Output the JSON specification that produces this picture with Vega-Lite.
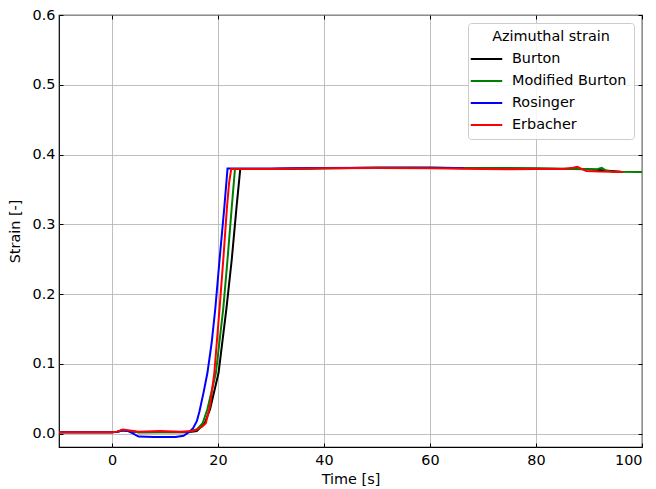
{
  "$schema": "https://vega.github.io/schema/vega-lite/v6.json",
  "width": 583,
  "height": 432,
  "autosize": {"type": "none"},
  "padding": {"left": 59, "top": 15, "right": 14, "bottom": 42},
  "config": {
    "font": "DejaVu Sans",
    "view": {"stroke": "black", "strokeWidth": 1.2},
    "axis": {
      "labelFont": "DejaVu Sans", "titleFont": "DejaVu Sans",
      "labelFontSize": 14.4, "titleFontSize": 14.4, "titleFontWeight": "normal",
      "labelColor": "#000", "titleColor": "#000",
      "gridColor": "#b0b0b0", "gridWidth": 1, "gridOpacity": 0.8,
      "domain": false, "tickColor": "#000", "tickSize": -4, "tickWidth": 1
    }
  },
  "data": {"values": [
    {"t": -10, "s": 0.002, "m": "Burton"}, {"t": 0, "s": 0.002, "m": "Burton"}, {"t": 1, "s": 0.003, "m": "Burton"}, {"t": 2, "s": 0.005, "m": "Burton"}, {"t": 3, "s": 0.004, "m": "Burton"}, {"t": 5, "s": 0.002, "m": "Burton"}, {"t": 14, "s": 0.002, "m": "Burton"}, {"t": 15, "s": 0.003, "m": "Burton"}, {"t": 16, "s": 0.004, "m": "Burton"}, {"t": 17.5, "s": 0.015, "m": "Burton"}, {"t": 18.5, "s": 0.035, "m": "Burton"}, {"t": 20.1, "s": 0.087, "m": "Burton"}, {"t": 21.6, "s": 0.18, "m": "Burton"}, {"t": 22.6, "s": 0.25, "m": "Burton"}, {"t": 23.5, "s": 0.325, "m": "Burton"}, {"t": 24.2, "s": 0.3795, "m": "Burton"}, {"t": 30, "s": 0.3795, "m": "Burton"}, {"t": 40, "s": 0.3805, "m": "Burton"}, {"t": 50, "s": 0.381, "m": "Burton"}, {"t": 60, "s": 0.381, "m": "Burton"}, {"t": 70, "s": 0.3805, "m": "Burton"}, {"t": 80, "s": 0.38, "m": "Burton"}, {"t": 90, "s": 0.379, "m": "Burton"}, {"t": 96, "s": 0.3755, "m": "Burton"},
    {"t": -10, "s": 0.002, "m": "Modified Burton"}, {"t": 0, "s": 0.002, "m": "Modified Burton"}, {"t": 1, "s": 0.003, "m": "Modified Burton"}, {"t": 2, "s": 0.005, "m": "Modified Burton"}, {"t": 3, "s": 0.004, "m": "Modified Burton"}, {"t": 5, "s": 0.002, "m": "Modified Burton"}, {"t": 14.5, "s": 0.003, "m": "Modified Burton"}, {"t": 16, "s": 0.006, "m": "Modified Burton"}, {"t": 17.1, "s": 0.015, "m": "Modified Burton"}, {"t": 18, "s": 0.035, "m": "Modified Burton"}, {"t": 19.6, "s": 0.087, "m": "Modified Burton"}, {"t": 21, "s": 0.18, "m": "Modified Burton"}, {"t": 21.8, "s": 0.25, "m": "Modified Burton"}, {"t": 22.6, "s": 0.325, "m": "Modified Burton"}, {"t": 23.2, "s": 0.3795, "m": "Modified Burton"}, {"t": 30, "s": 0.3795, "m": "Modified Burton"}, {"t": 40, "s": 0.3805, "m": "Modified Burton"}, {"t": 50, "s": 0.381, "m": "Modified Burton"}, {"t": 60, "s": 0.381, "m": "Modified Burton"}, {"t": 70, "s": 0.3805, "m": "Modified Burton"}, {"t": 80, "s": 0.38, "m": "Modified Burton"}, {"t": 88, "s": 0.3795, "m": "Modified Burton"}, {"t": 91.5, "s": 0.379, "m": "Modified Burton"}, {"t": 92.4, "s": 0.381, "m": "Modified Burton"}, {"t": 93.2, "s": 0.377, "m": "Modified Burton"}, {"t": 94.5, "s": 0.3755, "m": "Modified Burton"}, {"t": 100, "s": 0.375, "m": "Modified Burton"},
    {"t": -10, "s": 0.002, "m": "Rosinger"}, {"t": 0, "s": 0.002, "m": "Rosinger"}, {"t": 1, "s": 0.003, "m": "Rosinger"}, {"t": 2, "s": 0.005, "m": "Rosinger"}, {"t": 3, "s": 0.004, "m": "Rosinger"}, {"t": 4, "s": 0.0, "m": "Rosinger"}, {"t": 5, "s": -0.004, "m": "Rosinger"}, {"t": 8, "s": -0.0045, "m": "Rosinger"}, {"t": 12, "s": -0.0045, "m": "Rosinger"}, {"t": 13.5, "s": -0.003, "m": "Rosinger"}, {"t": 14.5, "s": 0.002, "m": "Rosinger"}, {"t": 15.3, "s": 0.008, "m": "Rosinger"}, {"t": 16, "s": 0.018, "m": "Rosinger"}, {"t": 16.5, "s": 0.032, "m": "Rosinger"}, {"t": 17.3, "s": 0.06, "m": "Rosinger"}, {"t": 18, "s": 0.087, "m": "Rosinger"}, {"t": 18.8, "s": 0.13, "m": "Rosinger"}, {"t": 19.5, "s": 0.18, "m": "Rosinger"}, {"t": 20.3, "s": 0.25, "m": "Rosinger"}, {"t": 21.2, "s": 0.325, "m": "Rosinger"}, {"t": 21.8, "s": 0.38, "m": "Rosinger"}, {"t": 30, "s": 0.38, "m": "Rosinger"}, {"t": 40, "s": 0.3808, "m": "Rosinger"}, {"t": 50, "s": 0.3812, "m": "Rosinger"}, {"t": 60, "s": 0.3812, "m": "Rosinger"}, {"t": 66.5, "s": 0.3805, "m": "Rosinger"},
    {"t": -10, "s": 0.002, "m": "Erbacher"}, {"t": 0, "s": 0.002, "m": "Erbacher"}, {"t": 1, "s": 0.003, "m": "Erbacher"}, {"t": 2, "s": 0.006, "m": "Erbacher"}, {"t": 3, "s": 0.005, "m": "Erbacher"}, {"t": 5, "s": 0.003, "m": "Erbacher"}, {"t": 9, "s": 0.004, "m": "Erbacher"}, {"t": 13, "s": 0.003, "m": "Erbacher"}, {"t": 15, "s": 0.004, "m": "Erbacher"}, {"t": 16, "s": 0.006, "m": "Erbacher"}, {"t": 17, "s": 0.01, "m": "Erbacher"}, {"t": 17.7, "s": 0.015, "m": "Erbacher"}, {"t": 18.5, "s": 0.04, "m": "Erbacher"}, {"t": 19.3, "s": 0.087, "m": "Erbacher"}, {"t": 20.3, "s": 0.18, "m": "Erbacher"}, {"t": 21, "s": 0.25, "m": "Erbacher"}, {"t": 21.7, "s": 0.325, "m": "Erbacher"}, {"t": 22.1, "s": 0.36, "m": "Erbacher"}, {"t": 22.5, "s": 0.3795, "m": "Erbacher"}, {"t": 30, "s": 0.3795, "m": "Erbacher"}, {"t": 40, "s": 0.3803, "m": "Erbacher"}, {"t": 50, "s": 0.3808, "m": "Erbacher"}, {"t": 60, "s": 0.3803, "m": "Erbacher"}, {"t": 70, "s": 0.3795, "m": "Erbacher"}, {"t": 75, "s": 0.379, "m": "Erbacher"}, {"t": 80, "s": 0.3792, "m": "Erbacher"}, {"t": 85, "s": 0.3795, "m": "Erbacher"}, {"t": 87, "s": 0.381, "m": "Erbacher"}, {"t": 87.8, "s": 0.3825, "m": "Erbacher"}, {"t": 88.6, "s": 0.3795, "m": "Erbacher"}, {"t": 89.5, "s": 0.3765, "m": "Erbacher"}, {"t": 92, "s": 0.3757, "m": "Erbacher"}, {"t": 96.4, "s": 0.3752, "m": "Erbacher"}
  ]},
  "layer": [
    {
      "mark": {"type": "line", "strokeWidth": 2, "clip": true},
      "encoding": {
        "x": {"field": "t", "type": "quantitative", "title": "Time [s]",
          "scale": {"domain": [-10, 100], "nice": false, "zero": false},
          "axis": {"values": [0, 20, 40, 60, 80, 100], "labelPadding": 10, "titlePadding": 6}},
        "y": {"field": "s", "type": "quantitative", "title": "Strain [-]",
          "scale": {"domain": [-0.019, 0.6], "nice": false, "zero": false},
          "axis": {"values": [0, 0.1, 0.2, 0.3, 0.4, 0.5, 0.6], "format": ".1f", "labelPadding": 8, "titlePadding": 10}},
        "color": {"field": "m", "type": "nominal",
          "scale": {"domain": ["Burton", "Modified Burton", "Rosinger", "Erbacher"], "range": ["#000000", "#008000", "#0000ff", "#ff0000"]},
          "legend": {
            "title": "Azimuthal strain", "orient": "top-right", "offset": 8,
            "titleFontSize": 14.4, "titleFontWeight": "normal", "titleColor": "#000", "titleAnchor": "middle", "titlePadding": 3,
            "labelFontSize": 14.4, "labelColor": "#000", "labelOffset": 14,
            "symbolType": "M-1.5,0H1.5", "symbolSize": 440, "symbolStrokeWidth": 2,
            "rowPadding": 4, "padding": 7,
            "strokeColor": "#cccccc", "fillColor": "rgba(255,255,255,0.85)", "cornerRadius": 3
          }},
        "order": {"field": "m", "type": "nominal"}
      }
    },
    {
      "mark": {"type": "point", "opacity": 0},
      "encoding": {
        "x": {"field": "t", "type": "quantitative",
          "axis": {"orient": "top", "values": [0, 20, 40, 60, 80, 100], "labels": false, "title": null, "grid": false}},
        "y": {"field": "s", "type": "quantitative",
          "axis": {"orient": "right", "values": [0, 0.1, 0.2, 0.3, 0.4, 0.5, 0.6], "labels": false, "title": null, "grid": false}}
      }
    }
  ],
  "resolve": {"axis": {"x": "independent", "y": "independent"}}
}
